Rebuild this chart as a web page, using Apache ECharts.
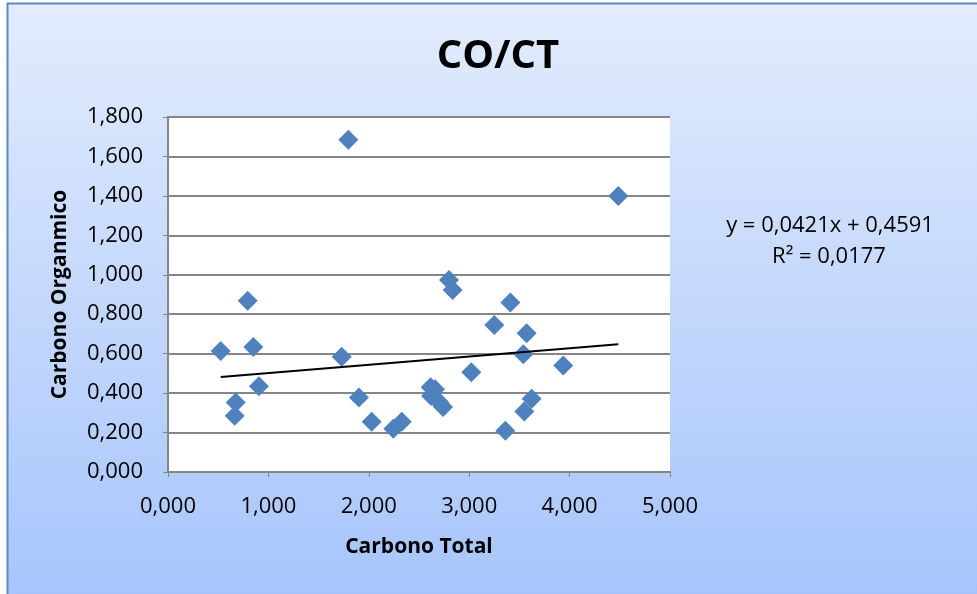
<!DOCTYPE html>
<html>
<head>
<meta charset="utf-8">
<script src="https://cdn.jsdelivr.net/npm/echarts@6/dist/echarts.min.js"></script>
<style>
html,body{margin:0;padding:0;background:#ffffff;}
#chart{width:977px;height:594px;}
</style>
</head>
<body>
<div id="chart"></div>
<script>
// Data (Carbono Total, Carbono Organmico)
const carbonoTotal = [1.796, 0.794, 0.525, 0.850, 1.730, 0.906, 0.674, 0.664, 1.902, 2.029, 2.244, 2.328,
  4.485, 2.799, 2.835, 3.410, 3.250, 3.572, 3.539, 3.937, 3.021, 2.616, 2.660, 2.620, 2.700, 2.740, 3.622, 3.549, 3.360];
const carbonoOrganico = [1.685, 0.868, 0.614, 0.634, 0.585, 0.435, 0.352, 0.285, 0.378, 0.255, 0.219, 0.255,
  1.400, 0.973, 0.923, 0.860, 0.745, 0.703, 0.597, 0.540, 0.506, 0.430, 0.420, 0.385, 0.355, 0.330, 0.371, 0.307, 0.209];
const trendSlope = 0.0421;
const trendIntercept = 0.4591;
const equationLines = ['y = 0,0421x + 0,4591', 'R² = 0,0177'];
const titleText = 'CO/CT';
const xAxisName = 'Carbono Total';
const yAxisName = 'Carbono Organmico';

const points = carbonoTotal.map((x, i) => [x, carbonoOrganico[i]]);
const xMin = Math.min(...carbonoTotal), xMax = Math.max(...carbonoTotal);
const trend = [[xMin, trendSlope * xMin + trendIntercept], [xMax, trendSlope * xMax + trendIntercept]];

const fmt = v => v.toFixed(3).replace('.', ',');
const fmtX = v => v.toFixed(0) + ',000';
const FONT = '"Open Sans", "Liberation Sans", sans-serif';

const chart = echarts.init(document.getElementById('chart'), null, {renderer: 'canvas'});
chart.setOption({
  animation: false,
  backgroundColor: '#ffffff',
  graphic: [
    {
      type: 'rect', z: -10, silent: true,
      shape: {x: 7.5, y: 3.5, width: 980, height: 600},
      style: {
        fill: new echarts.graphic.LinearGradient(0, 0, 0, 1, [
          {offset: 0, color: '#e2ecfd'},
          {offset: 1, color: '#a6c4fb'}
        ]),
        stroke: '#5b8ac6', lineWidth: 2
      }
    },
    {
      type: 'text', z: 10, x: 498, y: 57,
      style: {text: titleText, fontFamily: FONT, fontWeight: 'bold', fontSize: 40, fill: '#000000',
        align: 'center', verticalAlign: 'middle'}
    },
    {
      type: 'text', z: 10, x: 830, y: 226,
      style: {text: equationLines[0], fontFamily: FONT, fontSize: 22, fill: '#000000',
        align: 'center', verticalAlign: 'middle'}
    },
    {
      type: 'text', z: 10, x: 829, y: 257,
      style: {text: equationLines[1], fontFamily: FONT, fontSize: 22, fill: '#000000',
        align: 'center', verticalAlign: 'middle'}
    },
    {
      type: 'rect', z: -5, silent: true,
      shape: {x: 168, y: 117, width: 502, height: 355},
      style: {fill: '#ffffff'}
    }
  ],
  grid: {left: 168, top: 117, right: 307, bottom: 122},
  xAxis: {
    type: 'value', min: 0, max: 5, interval: 1,
    name: xAxisName, nameLocation: 'middle', nameGap: 65,
    nameTextStyle: {fontFamily: FONT, fontWeight: 'bold', fontSize: 21, color: '#000'},
    axisLine: {show: true, lineStyle: {color: '#868686', width: 2}},
    axisTick: {show: true, length: 5, lineStyle: {color: '#868686', width: 1}},
    axisLabel: {formatter: fmtX, fontFamily: FONT, fontSize: 22, color: '#000', margin: 24},
    splitLine: {show: false}
  },
  yAxis: {
    type: 'value', min: 0, max: 1.8, interval: 0.2,
    name: yAxisName, nameLocation: 'middle', nameGap: 97,
    nameTextStyle: {fontFamily: FONT, fontWeight: 'bold', fontSize: 21, color: '#000'},
    axisLine: {show: true, lineStyle: {color: '#868686', width: 2}},
    axisTick: {show: true, length: 5, lineStyle: {color: '#868686', width: 1}},
    axisLabel: {formatter: fmt, fontFamily: FONT, fontSize: 22, color: '#000', margin: 25},
    splitLine: {show: true, lineStyle: {color: '#868686', width: 2}}
  },
  series: [
    {
      type: 'scatter', data: points, symbol: 'diamond', symbolSize: [20, 20],
      itemStyle: {color: '#4f81bd', opacity: 1}, z: 3
    },
    {
      type: 'line', data: trend, symbol: 'none', lineStyle: {color: '#000000', width: 2}, z: 4
    }
  ]
});
</script>
</body>
</html>
